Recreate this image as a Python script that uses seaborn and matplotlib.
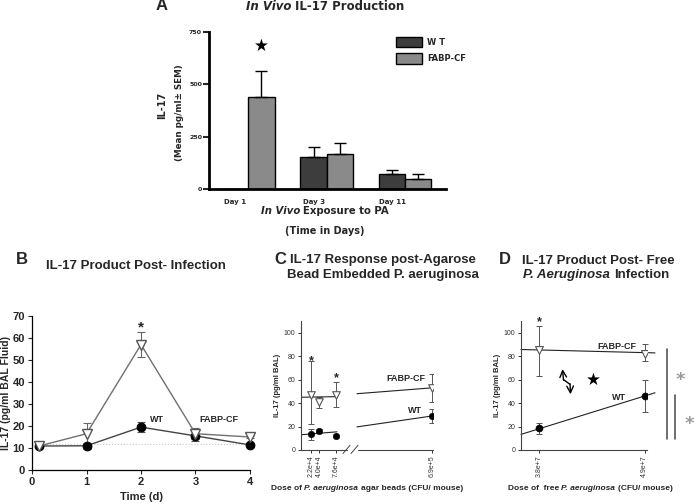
import matplotlib
matplotlib.use("Agg")
import matplotlib.pyplot as plt
import seaborn as sns
import numpy as np
import pandas as pd
from matplotlib.patches import Patch
from matplotlib.lines import Line2D

# ---------------- data ----------------
# Panel A
days_a = ["Day 1", "Day 3", "Day 11"]
wt_a = [0, 155, 72]
wt_a_err = [0, 45, 18]
fabp_a = [440, 165, 48]
fabp_a_err = [125, 55, 24]

# Panel B
times_b = [0.13, 1, 2, 3, 4]
wt_b = [10.9, 11.0, 19.5, 15.5, 11.4]
wt_b_err = [0.5, 1.5, 2.2, 2.5, 0.5]
fabp_b = [10.9, 16.5, 57.0, 16.5, 15.0]
fabp_b_err = [0.5, 5.0, 5.8, 2.5, 0.5]
baseline_b = 12

# Panel C (broken dose axis)
dose_c = ["2.2e+4", "4.0e+4", "7.6e+4", "6.9e+5"]
pos_c = [10, 18, 35, 131]
fabp_c = [47, 41, 47, 53]
fabp_c_lo = [22, 36, 37, 41]
fabp_c_hi = [76, 45, 58, 64.5]
wt_c = [13.3, 16.4, 12.0, 29.0]
wt_c_lo = [8.5, 15.0, 11.0, 23.0]
wt_c_hi = [18.0, 17.5, 13.0, 35.0]
fit_c_x1 = [0, 36]
fit_c_x2 = [56, 131]
fabp_fit_c1 = [45, 45.5]
fabp_fit_c2 = [48, 53]
wt_fit_c1 = [13, 15.5]
wt_fit_c2 = [19.7, 29]

# Panel D
dose_d = ["3.8e+7", "4.9e+7"]
pos_d = [18, 123.5]
fabp_d = [85, 82]
fabp_d_lo = [63, 76]
fabp_d_hi = [106, 90]
wt_d = [18.4, 46]
wt_d_lo = [14, 32.6]
wt_d_hi = [23, 60]
fit_d_x = [0, 134]
fabp_fit_d = [85.7, 82.8]
wt_fit_d = [13.3, 48.8]

# ---------------- style ----------------
sns.set_theme(style="white")
plt.rcParams["font.family"] = ["Liberation Sans", "DejaVu Sans"]
plt.rcParams["font.weight"] = "bold"
plt.rcParams["axes.labelweight"] = "bold"

W, H = 696, 504
fig = plt.figure(figsize=(W / 100, H / 100), dpi=100)
fig.patch.set_facecolor("white")


def fx(x):
    return x / W


def fy(y):
    return 1 - y / H


def px_axes(l, r, t, b):
    return fig.add_axes([l / W, 1 - b / H, (r - l) / W, (b - t) / H])


renderer = fig.canvas.get_renderer()


def rich(x, y, parts, size, family=None):
    texts, widths = [], []
    for s, st in parts:
        kw = {}
        if family:
            kw["family"] = family
        t = fig.text(0, fy(y), s, fontsize=size, fontstyle=st, fontweight="bold",
                     ha="left", va="center", **kw)
        texts.append(t)
        widths.append(t.get_window_extent(renderer=renderer).width)
    gap = 0.3 * size * 100 / 72
    total = sum(widths) + gap * (len(parts) - 1)
    start = x - total / 2
    for t, w in zip(texts, widths):
        t.set_x(fx(start))
        start += w + gap


WT_DARK = "#3d3d3d"
FABP_GRAY = "#8a8a8a"

# ================= Panel A =================
axA = px_axes(209, 446, 32, 189)
dfa = pd.DataFrame({
    "day": days_a * 2,
    "group": ["W T"] * 3 + ["FABP-CF"] * 3,
    "il17": wt_a + fabp_a,
})
sns.barplot(data=dfa, x="day", y="il17", hue="group", palette=[WT_DARK, FABP_GRAY],
            width=0.67, edgecolor="black", linewidth=1, errorbar=None, saturation=1,
            ax=axA)
for cont, errs in zip(axA.containers, [wt_a_err, fabp_a_err]):
    for bar, e in zip(cont, errs):
        if e > 0:
            xc = bar.get_x() + bar.get_width() / 2
            axA.errorbar(xc, bar.get_height(), yerr=[[0], [e]], color="black",
                         elinewidth=1, capsize=4, capthick=1)
axA.set_xlim(-0.5, 2.52)
axA.set_ylim(0, 750)
axA.set_yticks([0, 250, 500, 750])
axA.set_xticks(np.arange(3) - 0.1675)
axA.set_xticklabels(days_a)
for lab in axA.get_xticklabels() + axA.get_yticklabels():
    lab.set_family("DejaVu Sans")
    lab.set_fontweight("bold")
axA.tick_params(axis="y", direction="out", length=4, width=1.5, pad=1, labelsize=4.5,
                left=True)
axA.tick_params(axis="x", length=0, pad=7, labelsize=5)
for s in ["top", "right"]:
    axA.spines[s].set_visible(False)
for s in ["left", "bottom"]:
    axA.spines[s].set_linewidth(2)
    axA.spines[s].set_color("black")
axA.set_xlabel("")
axA.set_ylabel("")
handles = [Patch(facecolor=WT_DARK, edgecolor="black", lw=1, label="W T"),
           Patch(facecolor=FABP_GRAY, edgecolor="black", lw=1, label="FABP-CF")]
axA.legend(handles=handles, loc="upper left",
           bbox_to_anchor=((396 - 209) / 237, (189 - 37) / 157),
           frameon=False, borderaxespad=0, borderpad=0, handlelength=3.1,
           handleheight=1.5, handletextpad=0.6, labelspacing=0.75,
           prop={"family": "DejaVu Sans", "weight": "bold", "size": 6})
axA.text(0.1675, 682, "★", ha="center", va="center", fontsize=12, family="DejaVu Sans",
         color="black")

fig.text(fx(162), fy(6), "A", fontsize=12, fontweight="bold", ha="center", va="center")
rich(325, 6, [("In Vivo", "italic"), ("IL-17 Production", "normal")], 8.5,
     family="DejaVu Sans")
fig.text(fx(162.5), fy(105), "IL-17", rotation=90, fontsize=7, fontweight="bold",
         ha="center", va="center", family="DejaVu Sans")
fig.text(fx(179), fy(113), "(Mean pg/ml± SEM)", rotation=90, fontsize=6.3,
         fontweight="bold", ha="center", va="center", family="DejaVu Sans")
rich(325, 211, [("In Vivo", "italic"), ("Exposure to PA", "normal")], 7.3,
     family="DejaVu Sans")
fig.text(fx(325), fy(231), "(Time in Days)", fontsize=7, fontweight="bold",
         ha="center", va="center", family="DejaVu Sans")

# ================= Panel B =================
axB = px_axes(32, 250, 316, 470)
axB.axhline(baseline_b, color="#c8c8c8", ls=":", lw=0.8, zorder=0)
axB.errorbar(times_b, wt_b, yerr=wt_b_err, fmt="none", ecolor="#555555",
             elinewidth=0.8, capsize=3, capthick=0.8, zorder=2)
axB.errorbar(times_b, fabp_b, yerr=fabp_b_err, fmt="none", ecolor="#666666",
             elinewidth=0.8, capsize=3, capthick=0.8, zorder=2)
sns.lineplot(x=times_b, y=wt_b, color="#444444", lw=1, marker="o", markersize=6.3,
             markerfacecolor="black", markeredgecolor="black", ax=axB, zorder=3)
sns.lineplot(x=times_b, y=fabp_b, color="#707070", lw=1, marker="v", markersize=7.3,
             markerfacecolor="white", markeredgecolor="#555555", markeredgewidth=1,
             ax=axB, zorder=4)
for ln in axB.lines:
    ln.set_clip_on(False)
axB.set_xlim(0, 4)
axB.set_ylim(0, 70)
axB.set_xticks([0, 1, 2, 3, 4])
axB.set_yticks(range(0, 71, 10))
axB.tick_params(direction="out", length=3, width=0.8, labelsize=8, pad=2,
                left=True, bottom=True)
for lab in axB.get_xticklabels() + axB.get_yticklabels():
    lab.set_fontweight("bold")
for s in ["top", "right"]:
    axB.spines[s].set_visible(False)
for s in ["left", "bottom"]:
    axB.spines[s].set_linewidth(0.9)
    axB.spines[s].set_color("black")
axB.set_ylabel("IL-17 (pg/ml BAL Fluid)", fontsize=7.5, fontweight="bold", labelpad=1)
axB.set_xlabel("Time (d)", fontsize=8, fontweight="bold", labelpad=4)
axB.text(2, 65, "*", ha="center", va="center", fontsize=11, fontweight="bold")
axB.text(2.29, 23, "WT", ha="center", va="center", fontsize=6.5, fontweight="bold")
axB.text(3.42, 23, "FABP-CF", ha="center", va="center", fontsize=6.5, fontweight="bold")
fig.text(fx(22), fy(260), "B", fontsize=12, fontweight="bold", ha="center", va="center")
fig.text(fx(136), fy(266), "IL-17 Product Post- Infection", fontsize=9.5,
         fontweight="bold", ha="center", va="center")


def style_small(ax):
    for s in ["top", "right"]:
        ax.spines[s].set_visible(False)
    for s in ["left", "bottom"]:
        ax.spines[s].set_linewidth(0.8)
        ax.spines[s].set_color("#444444")
    ax.tick_params(direction="out", length=2.5, width=0.7, labelsize=5, pad=1.5,
                   colors="#333333", left=True, bottom=True)
    ax.set_ylim(0, 110)
    ax.set_yticks(range(0, 101, 20))
    for lab in ax.get_yticklabels():
        lab.set_fontweight("normal")


# ================= Panel C =================
axC = px_axes(301, 433, 321, 450)
style_small(axC)
axC.spines["bottom"].set_visible(False)
axC.set_xlim(0, 132)
axC.errorbar(pos_c, fabp_c,
             yerr=[np.subtract(fabp_c, fabp_c_lo), np.subtract(fabp_c_hi, fabp_c)],
             fmt="none", ecolor="#555555", elinewidth=0.7, capsize=2, capthick=0.7)
axC.errorbar(pos_c, wt_c,
             yerr=[np.subtract(wt_c, wt_c_lo), np.subtract(wt_c_hi, wt_c)],
             fmt="none", ecolor="#555555", elinewidth=0.7, capsize=2, capthick=0.7)
sns.lineplot(x=fit_c_x1, y=fabp_fit_c1, color="#222222", lw=0.8, ax=axC)
sns.lineplot(x=fit_c_x2, y=fabp_fit_c2, color="#222222", lw=0.8, ax=axC)
sns.lineplot(x=fit_c_x1, y=wt_fit_c1, color="#222222", lw=0.8, ax=axC)
sns.lineplot(x=fit_c_x2, y=wt_fit_c2, color="#222222", lw=0.8, ax=axC)
sns.scatterplot(x=pos_c, y=wt_c, marker="o", s=22, color="black", edgecolor="black",
                ax=axC, zorder=4)
sns.scatterplot(x=pos_c, y=fabp_c, marker="v", s=30, color="white", edgecolor="#555555",
                linewidth=0.8, ax=axC, zorder=4)
# broken x axis
for xs in ([0, 46], [57, 132]):
    axC.plot(xs, [0, 0], color="#444444", lw=0.8, clip_on=False)
for x0 in (42, 50):
    axC.plot([x0, x0 + 7], [-3, 4], color="#444444", lw=0.7, clip_on=False)
axC.set_xticks(pos_c)
axC.set_xticklabels(dose_c, rotation=90, fontsize=5, fontweight="normal")
axC.text(10, 76, "*", ha="center", va="center", fontsize=9, fontweight="bold")
axC.text(35, 61, "*", ha="center", va="center", fontsize=9, fontweight="bold")
axC.text(105, 61, "FABP-CF", ha="center", va="center", fontsize=6.5, fontweight="bold")
axC.text(114, 34, "WT", ha="center", va="center", fontsize=6.5, fontweight="bold")
axC.set_ylabel("IL-17 (pg/ml BAL)", fontsize=5.5, fontweight="bold", labelpad=2)
axC.set_xlabel("")
rich(367, 489, [("Dose of", "normal"), ("P. aeruginosa", "italic"),
                ("agar beads (CFU/ mouse)", "normal")], 6)
fig.text(fx(280), fy(259), "C", fontsize=12, fontweight="bold", ha="center", va="center")
fig.text(fx(383), fy(260), "IL-17 Response post-Agarose", fontsize=9.5,
         fontweight="bold", ha="center", va="center")
fig.text(fx(383), fy(275), "Bead Embedded P. aeruginosa", fontsize=9.5,
         fontweight="bold", ha="center", va="center")

# ================= Panel D =================
axD = px_axes(521, 647, 321, 450)
style_small(axD)
axD.set_xlim(0, 126)
axD.errorbar(pos_d, fabp_d,
             yerr=[np.subtract(fabp_d, fabp_d_lo), np.subtract(fabp_d_hi, fabp_d)],
             fmt="none", ecolor="#555555", elinewidth=0.7, capsize=2, capthick=0.7)
axD.errorbar(pos_d, wt_d,
             yerr=[np.subtract(wt_d, wt_d_lo), np.subtract(wt_d_hi, wt_d)],
             fmt="none", ecolor="#555555", elinewidth=0.7, capsize=2, capthick=0.7)
sns.lineplot(x=fit_d_x, y=fabp_fit_d, color="#222222", lw=0.8, ax=axD)
sns.lineplot(x=fit_d_x, y=wt_fit_d, color="#222222", lw=0.8, ax=axD)
for ln in axD.lines:
    ln.set_clip_on(False)
sns.scatterplot(x=pos_d, y=wt_d, marker="o", s=26, color="black", edgecolor="black",
                ax=axD, zorder=4)
sns.scatterplot(x=pos_d, y=fabp_d, marker="v", s=32, color="white", edgecolor="#555555",
                linewidth=0.8, ax=axD, zorder=4)
axD.set_xticks(pos_d)
axD.set_xticklabels(dose_d, rotation=90, fontsize=5, fontweight="normal")
axD.text(18, 109, "*", ha="center", va="center", fontsize=9, fontweight="bold",
         clip_on=False)
axD.text(96, 88, "FABP-CF", ha="center", va="center", fontsize=6.5, fontweight="bold")
axD.text(98, 45, "WT", ha="center", va="center", fontsize=6.5, fontweight="bold")
axD.text(72, 60, "★", ha="center", va="center", fontsize=12, family="DejaVu Sans",
         color="black")
# zig-zag double arrow
axD.plot([42.5, 49], [60, 56], color="black", lw=1)
axD.annotate("", xy=(41.5, 69), xytext=(42.5, 59.5),
             arrowprops=dict(arrowstyle="->", lw=1, color="black", shrinkA=0, shrinkB=0))
axD.annotate("", xy=(49.5, 47.5), xytext=(49, 56.5),
             arrowprops=dict(arrowstyle="->", lw=1, color="black", shrinkA=0, shrinkB=0))
axD.set_ylabel("IL-17 (pg/ml BAL)", fontsize=5.5, fontweight="bold", labelpad=2)
axD.set_xlabel("")
rich(590, 488, [("Dose of  free", "normal"), ("P. aeruginosa", "italic"),
                ("(CFU/ mouse)", "normal")], 6)
fig.text(fx(505), fy(259), "D", fontsize=12, fontweight="bold", ha="center", va="center")
fig.text(fx(598), fy(261), "IL-17 Product Post- Free", fontsize=9.5,
         fontweight="bold", ha="center", va="center")
rich(596, 275, [("P. Aeruginosa", "italic"), ("Infection", "normal")], 9.5)

# significance bars to the right of D
fig.add_artist(Line2D([fx(667), fx(667)], [fy(349), fy(439)], color="#555555", lw=1.2))
fig.add_artist(Line2D([fx(675), fx(675)], [fy(395), fy(439)], color="#555555", lw=1.2))
fig.text(fx(680), fy(380), "*", fontsize=13, fontweight="bold", color="#9a9a9a",
         ha="center", va="center", family="DejaVu Sans")
fig.text(fx(689), fy(424), "*", fontsize=13, fontweight="bold", color="#9a9a9a",
         ha="center", va="center", family="DejaVu Sans")

fig.savefig("out.png", dpi=100, facecolor="white")
